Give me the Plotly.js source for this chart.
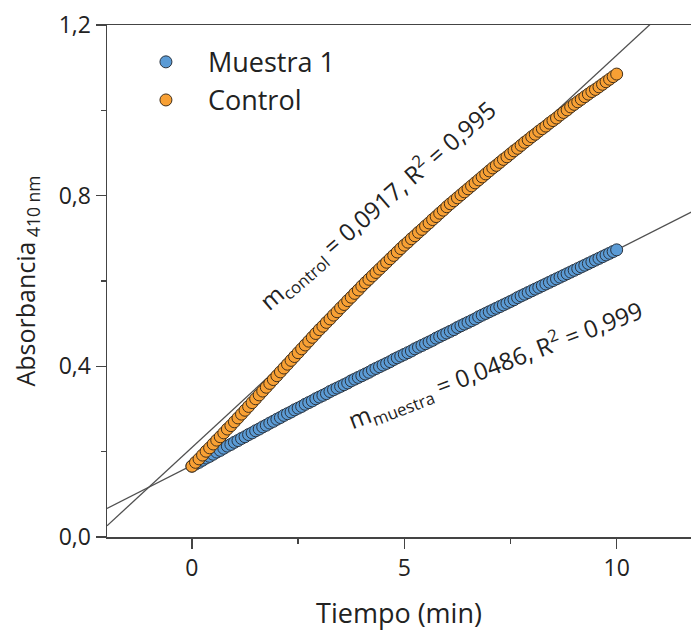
<!DOCTYPE html>
<html>
<head>
<meta charset="utf-8">
<script src="https://cdn.plot.ly/plotly-3.0.1.min.js"></script>
<style>html,body{margin:0;padding:0;background:#fff;}#chart{width:691px;height:634px;}</style>
</head>
<body>
<div id="chart"></div>
<script>
// Sampling times (seconds), every 5 s over 10 min
var timeSeconds = [0,5,10,15,20,25,30,35,40,45,50,55,60,65,70,75,80,85,90,95,100,105,110,115,120,125,130,135,140,145,150,155,160,165,170,175,180,185,190,195,200,205,210,215,220,225,230,235,240,245,250,255,260,265,270,275,280,285,290,295,300,305,310,315,320,325,330,335,340,345,350,355,360,365,370,375,380,385,390,395,400,405,410,415,420,425,430,435,440,445,450,455,460,465,470,475,480,485,490,495,500,505,510,515,520,525,530,535,540,545,550,555,560,565,570,575,580,585,590,595,600];

// Absorbance 410 nm — Muestra 1
var muestra1 = [0.166,0.171,0.175,0.180,0.185,0.189,0.194,0.199,0.203,0.208,0.213,0.217,
0.222,0.226,0.231,0.235,0.240,0.244,0.249,0.253,0.258,0.262,0.267,0.271,
0.276,0.280,0.285,0.289,0.293,0.298,0.302,0.306,0.311,0.315,0.319,0.324,
0.328,0.332,0.336,0.341,0.345,0.349,0.353,0.357,0.361,0.366,0.370,0.374,
0.378,0.382,0.386,0.391,0.395,0.399,0.403,0.407,0.411,0.416,0.420,0.424,
0.428,0.432,0.436,0.441,0.445,0.449,0.453,0.457,0.461,0.466,0.470,0.474,
0.478,0.482,0.486,0.491,0.495,0.499,0.503,0.507,0.511,0.516,0.520,0.524,
0.528,0.532,0.536,0.540,0.544,0.548,0.552,0.556,0.561,0.565,0.569,0.573,
0.577,0.581,0.585,0.589,0.593,0.597,0.601,0.605,0.609,0.613,0.617,0.621,
0.625,0.629,0.633,0.637,0.641,0.645,0.649,0.653,0.657,0.661,0.665,0.669,
0.673];

// Absorbance 410 nm — Control
var control = [0.166,0.175,0.183,0.192,0.201,0.209,0.218,0.227,0.235,0.244,0.253,0.261,
0.270,0.279,0.288,0.297,0.306,0.315,0.324,0.333,0.342,0.351,0.360,0.369,
0.378,0.387,0.396,0.405,0.414,0.423,0.432,0.441,0.450,0.459,0.468,0.477,
0.486,0.494,0.503,0.511,0.520,0.528,0.537,0.545,0.554,0.562,0.571,0.579,
0.588,0.596,0.604,0.612,0.620,0.628,0.636,0.644,0.652,0.660,0.668,0.676,
0.684,0.691,0.699,0.706,0.714,0.721,0.729,0.736,0.744,0.751,0.759,0.766,
0.774,0.781,0.788,0.795,0.802,0.809,0.816,0.823,0.830,0.837,0.844,0.851,
0.858,0.865,0.871,0.878,0.885,0.891,0.898,0.905,0.911,0.918,0.925,0.931,
0.938,0.944,0.951,0.957,0.963,0.970,0.976,0.982,0.989,0.995,1.001,1.008,
1.014,1.020,1.026,1.032,1.038,1.044,1.049,1.055,1.061,1.067,1.073,1.079,
1.085];

// Linear fits (as drawn): slope, intercept
var fitMuestra = {slope: 0.0505, intercept: 0.168};
var fitControl = {slope: 0.0919, intercept: 0.210};
var fitX = [-2, 12];

var seriesNames = ['Muestra 1', 'Control'];
var xTickVals = [0, 5, 10];
var xTickText = ['0', '5', '10'];
var yTickVals = [0, 0.4, 0.8, 1.2];
var yTickText = ['0,0', '0,4', '0,8', '1,2'];

var timeMin = timeSeconds.map(function(s){ return s / 60; });
function fitLine(f){ return fitX.map(function(x){ return f.intercept + f.slope * x; }); }

var FONT = '"Open Sans", "Noto Sans", sans-serif';
var lineStyle = {color: '#505050', width: 1.3};
var traces = [
  {x: fitX, y: fitLine(fitMuestra), mode: 'lines', line: lineStyle, showlegend: false, hoverinfo: 'skip'},
  {x: fitX, y: fitLine(fitControl), mode: 'lines', line: lineStyle, showlegend: false, hoverinfo: 'skip'},
  {x: timeMin, y: muestra1, name: seriesNames[0], mode: 'markers', type: 'scatter',
   marker: {size: 12, color: '#5B9BD5', line: {color: '#2A3440', width: 1}}},
  {x: timeMin, y: control, name: seriesNames[1], mode: 'markers', type: 'scatter',
   marker: {size: 12, color: '#F8A034', line: {color: '#43301A', width: 1}}}
];

var axisCommon = {
  showgrid: false, zeroline: false, showline: true, linecolor: '#444', linewidth: 1.5,
  ticks: 'outside', ticklen: 10, tickwidth: 1.5, tickcolor: '#444',
  tickfont: {family: FONT, size: 23, color: '#222'}
};

var layout = {
  width: 691, height: 634,
  margin: {l: 107, r: 0, t: 25, b: 97},
  paper_bgcolor: '#fff', plot_bgcolor: '#fff',
  font: {family: FONT, color: '#222'},
  showlegend: true,
  legend: {x: 0.029, y: 0.975, xanchor: 'left', yanchor: 'top', bgcolor: 'rgba(0,0,0,0)',
           font: {family: FONT, size: 27, color: '#222'}, itemwidth: 74, tracegroupgap: 0},
  xaxis: Object.assign({}, axisCommon, {
    range: [-2, 11.75], tickmode: 'array', tickvals: xTickVals, ticktext: xTickText, mirror: true,
    minor: {tickvals: [2.5, 7.5], ticks: 'outside', ticklen: 5, tickwidth: 1.5, tickcolor: '#444'},
    title: {text: 'Tiempo (min)', font: {family: FONT, size: 27, color: '#222'}, standoff: 22}
  }),
  yaxis: Object.assign({}, axisCommon, {
    range: [0, 1.2], tickmode: 'array', tickvals: yTickVals, ticktext: yTickText,
    minor: {tickvals: [0.2, 0.6, 1.0], ticks: 'outside', ticklen: 5, tickwidth: 1.5, tickcolor: '#444'},
    title: {text: 'Absorbancia<sub> 410 nm</sub>', font: {family: FONT, size: 25, color: '#222'}, standoff: 16}
  }),
  annotations: [
    {x: 4.38, y: 0.778, xref: 'x', yref: 'y', showarrow: false, textangle: -41,
     text: 'm<sub>control</sub> = 0,0917, R<sup>2</sup> = 0,995',
     font: {family: FONT, size: 24, color: '#222'}},
    {x: 7.14, y: 0.403, xref: 'x', yref: 'y', showarrow: false, textangle: -21,
     text: 'm<sub>muestra</sub> = 0,0486, R<sup>2</sup> = 0,999',
     font: {family: FONT, size: 24, color: '#222'}}
  ]
};

Plotly.newPlot('chart', traces, layout, {staticPlot: true, displayModeBar: false});
</script>
</body>
</html>
